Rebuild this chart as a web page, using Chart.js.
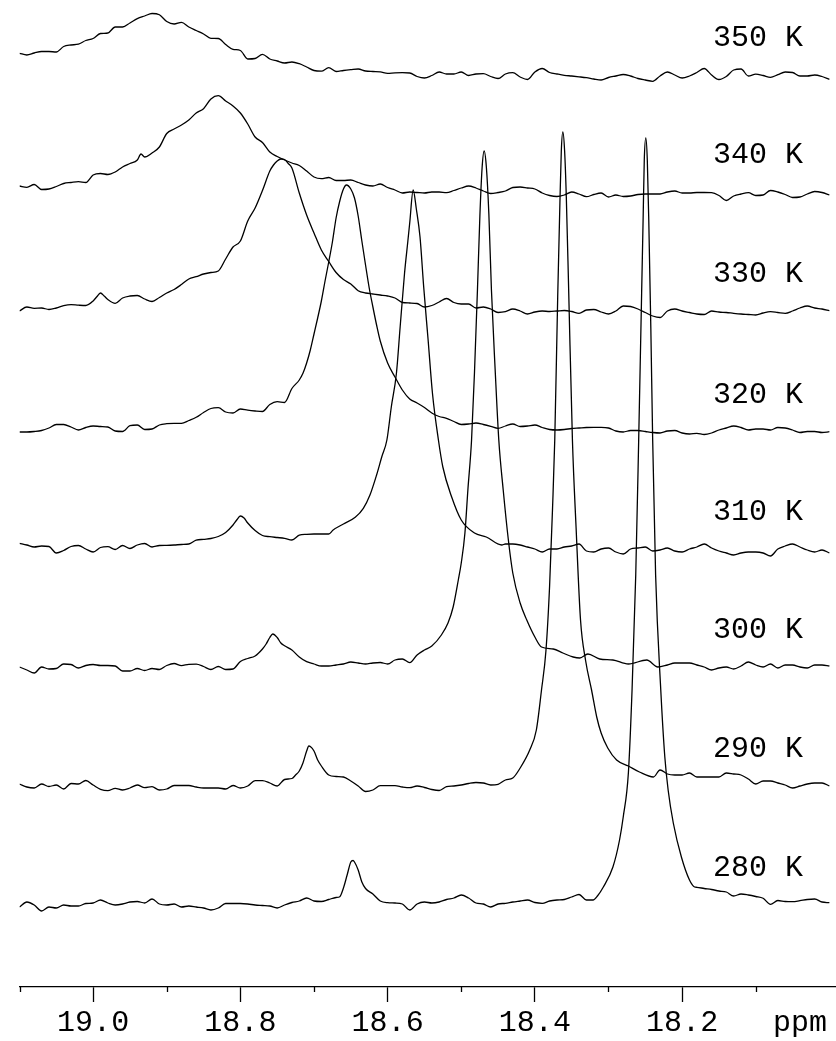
<!DOCTYPE html>
<html>
<head>
<meta charset="utf-8">
<title>Variable-temperature spectra</title>
<script src="https://cdn.jsdelivr.net/npm/chart.js@4.4.1/dist/chart.umd.min.js"></script>
<style>
    html, body { margin: 0; padding: 0; background: #fff; }
    #wrap { width: 836px; height: 1041px; }
</style>
</head>
<body>
<div id="wrap"><canvas id="spectra"></canvas></div>
<script>
// Temperatures, bottom trace first
const temps = [280, 290, 300, 310, 320, 330, 340, 350];
// Vertical offset of each trace in the stacked plot (intensity units)
const offsets = [82, 201, 320, 438, 555, 676, 795, 912];

// Each spectrum: [ppm, intensity above its own baseline]
const spec280 = [
    [19.10,-2],[19.09,3],[19.08,0],[19.07,-6],[19.06,-2],[19.05,-3],[19.04,0],[19.03,-1],[19.02,-1],[19.01,1.5],
    [19.00,2],[18.99,5],[18.98,2],[18.97,0],[18.96,1],[18.95,3],[18.94,3.5],[18.93,2],[18.92,6],[18.91,1],
    [18.90,0],[18.89,1],[18.88,-2],[18.87,-1],[18.86,-2],[18.85,-3],[18.84,-5],[18.83,-3],[18.82,1.5],[18.81,1.5],
    [18.80,1.5],[18.79,1],[18.78,0],[18.77,-0.5],[18.76,-1],[18.75,-3],[18.74,0],[18.73,2.5],[18.72,4],[18.71,7],
    [18.70,4],[18.69,3.5],[18.68,5.5],[18.67,7.5],[18.665,8.3],[18.66,17],[18.655,30],[18.65,43],[18.647,44.5],[18.645,43],
    [18.64,35],[18.635,23],[18.63,16.5],[18.62,11],[18.61,4],[18.60,2.3],[18.59,2],[18.58,1],[18.57,-5],[18.56,1],
    [18.55,3],[18.54,2],[18.53,3],[18.52,5.5],[18.51,7],[18.50,10],[18.49,7],[18.48,2],[18.47,1],[18.46,-2],
    [18.45,1],[18.44,1.7],[18.43,3],[18.42,4],[18.41,5],[18.40,2.5],[18.39,1.7],[18.38,4],[18.37,5],[18.36,5.5],
    [18.35,8],[18.34,10.5],[18.33,5],[18.321,5],[18.315,9],[18.307,18],[18.294,38],[18.285,65],[18.280,88],[18.273,132],
    [18.268,215],[18.263,330],[18.259,465],[18.256,575],[18.253,685],[18.2514,745],[18.2493,767],[18.2473,745],[18.2453,685],[18.2425,577],
    [18.240,465],[18.236,330],[18.229,215],[18.2235,148],[18.219,115],[18.212,82],[18.201,48],[18.190,25],[18.183,18],
    [18.18,17.7],[18.17,16.5],[18.16,15.5],[18.15,14],[18.14,13],[18.13,9],[18.12,11],[18.11,10],[18.10,8.5],[18.09,6.7],
    [18.08,0.7],[18.07,4.5],[18.06,3.5],[18.05,3.3],[18.04,4.3],[18.03,5.5],[18.02,6],[18.01,3],[18.00,2.3]
];

const spec290 = [
    [19.10,2],[19.09,-1],[19.08,-2],[19.07,2],[19.06,-0.5],[19.05,1],[19.04,-3],[19.03,2.5],[19.02,2],[19.01,5.5],
    [19.00,1],[18.99,-3.3],[18.98,-4.7],[18.97,-2.3],[18.96,-4],[18.95,-2],[18.94,1],[18.93,-1.7],[18.92,-0.7],[18.91,-4],
    [18.90,-3],[18.89,0.5],[18.88,0.5],[18.87,0.5],[18.86,-1],[18.85,-2],[18.84,-2],[18.83,-2],[18.82,-3],[18.81,0.5],
    [18.80,-2],[18.79,0],[18.78,5.3],[18.77,5.3],[18.76,3],[18.75,0],[18.74,6.5],[18.73,7.5],[18.725,11],[18.72,15],
    [18.715,23],[18.71,35],[18.707,40],[18.705,39.5],[18.70,35],[18.695,26],[18.69,20],[18.68,11],[18.67,9.5],[18.66,9],
    [18.65,5],[18.64,0],[18.63,-5.5],[18.62,-4],[18.61,0.3],[18.60,0.3],[18.59,0.3],[18.58,-1],[18.57,-1.7],[18.56,0],
    [18.55,-1.5],[18.54,-3.5],[18.53,-4.5],[18.52,-0.7],[18.51,0],[18.50,1],[18.49,2.5],[18.48,3.5],[18.47,3],[18.46,1],
    [18.45,1.7],[18.44,6],[18.43,8],[18.420,18],[18.407,36],[18.398,56],[18.391,96],[18.385,135],[18.380,200],[18.376,278],
    [18.373,346],[18.369,489],[18.366,583],[18.3641,635],[18.3620,654],[18.3596,635],[18.3573,589],[18.354,493],[18.349,346],[18.344,258],
    [18.338,166],[18.331,125],[18.323,96],[18.316,69],[18.310,53],[18.301,38],[18.289,26],[18.273,20],[18.258,14],[18.239,9],
    [18.23,16],[18.22,12],[18.21,11],[18.20,11],[18.19,13],[18.18,9],[18.17,9],[18.16,9],[18.15,9],[18.14,13],
    [18.13,12],[18.12,11],[18.11,7],[18.10,2],[18.09,5],[18.08,5],[18.07,3],[18.06,1],[18.05,-2],[18.04,0],
    [18.03,2],[18.02,3],[18.01,3],[18.00,0]
];

const spec300 = [
    [19.10,0],[19.09,-3],[19.08,-6],[19.07,0],[19.06,-2],[19.05,-1.5],[19.04,3],[19.03,2.5],[19.02,-1],[19.01,1.5],
    [19.00,2.5],[18.99,1.5],[18.98,1.5],[18.97,1],[18.96,-4],[18.95,-4],[18.94,-1.5],[18.93,-3.5],[18.92,-1.5],[18.91,-2.5],
    [18.90,1.5],[18.89,3.5],[18.88,1.3],[18.87,2.7],[18.86,2.8],[18.85,0.5],[18.84,-2.5],[18.83,0.5],[18.82,-2.5],[18.81,-2],
    [18.80,5.5],[18.79,8.5],[18.78,11],[18.77,18],[18.765,23],[18.76,29.5],[18.756,33],[18.75,29.5],[18.745,24],[18.74,21.2],
    [18.73,17],[18.72,10],[18.71,5.3],[18.70,3],[18.69,1],[18.68,1],[18.67,2],[18.66,3],[18.65,5],[18.64,4],
    [18.63,3],[18.62,4],[18.61,4.5],[18.60,3],[18.59,7],[18.58,8],[18.57,4.3],[18.56,12],[18.55,17],[18.54,21],
    [18.527,32],[18.518,44],[18.511,60],[18.504,87],[18.500,104],[18.495,134],[18.491,177],[18.486,227],[18.482,295],[18.478,377],
    [18.4747,451],[18.4717,499],[18.4689,516],[18.4659,500],[18.4625,453],[18.459,377],[18.454,298],[18.449,227],[18.443,177],[18.436,127],
    [18.430,94],[18.420,64],[18.411,47],[18.400,30],[18.391,20],[18.375,18],[18.362,14],[18.348,10],[18.339,9],[18.328,13],
    [18.312,8],[18.294,7],[18.273,3],[18.248,7],[18.233,0],[18.22,2],[18.21,4],[18.20,4],[18.19,4],[18.18,2],
    [18.17,0],[18.16,-3],[18.15,-1],[18.14,0],[18.13,-2],[18.12,1],[18.11,5],[18.10,2],[18.09,0],[18.08,3],
    [18.07,-1],[18.06,2],[18.05,2],[18.04,0],[18.03,-1],[18.02,2],[18.01,2],[18.00,1]
];

const spec310 = [
    [19.10,5.7],[19.09,4],[19.08,2],[19.07,3],[19.06,2.5],[19.05,-4],[19.04,-1.5],[19.03,2.5],[19.02,3.5],[19.01,0],
    [19.00,-3],[18.99,1.5],[18.98,2.3],[18.97,-0.5],[18.96,3.5],[18.95,0.5],[18.94,4],[18.93,5.5],[18.92,2],[18.91,3.5],
    [18.90,3.7],[18.89,4],[18.88,4.5],[18.87,5],[18.86,8.8],[18.85,9.7],[18.84,10.5],[18.83,12.5],[18.82,16.5],[18.81,24],
    [18.805,29],[18.80,33],[18.795,31],[18.79,26],[18.78,18.5],[18.77,13.5],[18.76,12.3],[18.75,11.5],[18.74,10.7],[18.73,9],
    [18.72,13.8],[18.71,14.7],[18.70,15],[18.69,15],[18.68,15],[18.674,19],[18.660,25],[18.644,31.7],[18.633,40.7],[18.624,54],
    [18.615,74],[18.608,92],[18.601,109],[18.595,142],[18.588,176],[18.583,222],[18.577,276],[18.5725,308],[18.570,326],[18.5653,359],
    [18.561,340],[18.556,312],[18.551,262],[18.545,209],[18.539,155],[18.531,109],[18.525,82],[18.513,52],[18.500,29],[18.482,16],
    [18.466,12],[18.445,4],[18.44,5],[18.43,5],[18.42,4],[18.41,2],[18.40,0],[18.39,-3],[18.38,0],[18.37,0],
    [18.36,2],[18.35,3],[18.34,5],[18.33,-2],[18.32,-3],[18.31,0],[18.30,1],[18.29,-3],[18.28,-5],[18.27,0],
    [18.26,1],[18.25,2],[18.24,-2],[18.23,-1],[18.22,1],[18.21,-2],[18.20,-3],[18.19,0],[18.18,2],[18.17,5],
    [18.16,1],[18.15,-2],[18.14,-4],[18.13,-6],[18.12,-4],[18.11,-3],[18.10,-3],[18.09,-4],[18.08,-7],[18.07,0],
    [18.06,3],[18.05,5],[18.04,2],[18.03,-1],[18.02,-3],[18.01,-1],[18.00,-4]
];

const spec320 = [
    [19.10,0],[19.09,0],[19.08,0.5],[19.07,1.5],[19.06,4],[19.05,7.5],[19.04,7.5],[19.03,5],[19.02,2],[19.01,4.5],
    [19.00,6],[18.99,5.5],[18.98,5],[18.97,1],[18.96,0.5],[18.95,6.3],[18.94,7],[18.93,2.5],[18.92,3],[18.91,7],
    [18.90,8.3],[18.89,8.7],[18.88,8.7],[18.87,11.5],[18.86,14.7],[18.85,19.5],[18.84,23.5],[18.83,24.3],[18.82,20],[18.81,19],
    [18.80,23],[18.79,21.8],[18.78,21],[18.77,20.5],[18.76,27.5],[18.75,30.3],[18.74,29.5],[18.73,43.5],[18.72,52],[18.715,58.7],
    [18.71,69],[18.705,82],[18.70,98],[18.695,114],[18.69,131],[18.685,151],[18.68,170],[18.675,190],[18.67,214],[18.665,231],
    [18.66,243],[18.656,247],[18.65,243],[18.645,234],[18.64,216],[18.635,191],[18.63,167],[18.625,144],[18.62,125],[18.615,107],
    [18.61,91],[18.60,69],[18.59,55],[18.58,42],[18.57,33],[18.56,29],[18.55,24.5],[18.54,19],[18.53,15.5],[18.52,13.7],
    [18.51,10.5],[18.50,7.5],[18.49,8],[18.48,9],[18.47,7.5],[18.46,5.7],[18.45,3.7],[18.44,6],[18.43,8],[18.42,5.5],
    [18.41,6],[18.40,7],[18.39,4.5],[18.38,2.5],[18.37,2],[18.36,2.5],[18.35,3.5],[18.34,4],[18.33,4.5],[18.32,4.7],
    [18.31,4.7],[18.30,4],[18.29,1],[18.28,0],[18.27,1.5],[18.26,1.5],[18.25,0.5],[18.24,-0.5],[18.23,-1],[18.22,1],
    [18.21,1.5],[18.20,-1],[18.19,-2],[18.18,-1.3],[18.17,-2.5],[18.16,-1],[18.15,2],[18.14,4],[18.13,6],[18.12,4.5],
    [18.11,2],[18.10,3],[18.09,3],[18.08,2],[18.07,4.5],[18.06,4],[18.05,2],[18.04,-0.5],[18.03,0.5],[18.02,0.5],
    [18.01,-0.5],[18.00,0.3]
];

const spec330 = [
    [19.10,0],[19.09,4],[19.08,2.7],[19.07,3],[19.06,1.5],[19.05,3],[19.04,5.3],[19.03,6.3],[19.02,5.8],[19.01,5.5],
    [19.00,10],[18.995,14.3],[18.99,18],[18.985,15],[18.98,11.5],[18.97,7.7],[18.96,13],[18.95,15],[18.94,15.5],[18.93,12],
    [18.92,9.5],[18.91,13.5],[18.90,18],[18.89,21.5],[18.88,26.5],[18.87,32],[18.86,34.3],[18.85,37],[18.84,38.5],[18.83,40],
    [18.82,52],[18.81,64],[18.80,70],[18.79,90],[18.78,103],[18.77,120.5],[18.76,140],[18.755,146],[18.75,150],[18.745,152],
    [18.74,151.5],[18.735,147.5],[18.73,143],[18.72,118],[18.71,96],[18.70,78],[18.69,61],[18.68,49.5],[18.67,38.5],[18.66,31.5],
    [18.65,27],[18.64,20.3],[18.63,18],[18.62,17],[18.61,16],[18.60,15],[18.59,13],[18.58,8.5],[18.57,8],[18.56,7.5],
    [18.55,4],[18.54,5.5],[18.53,9],[18.52,12.5],[18.51,8.5],[18.50,7],[18.49,7],[18.48,3],[18.47,4],[18.46,2],
    [18.45,-1.5],[18.44,-0.7],[18.43,2],[18.42,0],[18.41,-3],[18.40,-1],[18.39,0],[18.38,-0.5],[18.37,0],[18.36,0.5],
    [18.35,-0.5],[18.34,-2.3],[18.33,1],[18.32,1.5],[18.31,-1],[18.30,-3],[18.29,0],[18.28,5],[18.27,4.5],[18.26,2],
    [18.25,-1.5],[18.24,-5],[18.23,-6.5],[18.22,0],[18.21,2],[18.20,0],[18.19,-1.5],[18.18,-3],[18.17,-3.5],[18.16,0],
    [18.15,-1],[18.14,-1.5],[18.13,-2.3],[18.12,-3],[18.11,-3.5],[18.10,-4],[18.09,-2],[18.08,-0.7],[18.07,-1.5],[18.06,-2.3],
    [18.05,0],[18.04,3],[18.03,5],[18.02,3],[18.01,2],[18.00,0.3]
];

const spec340 = [
    [19.10,6],[19.09,4.7],[19.08,7.5],[19.07,2.5],[19.06,3],[19.05,5.5],[19.04,8.5],[19.03,9.5],[19.02,10.3],[19.01,9.5],
    [19.00,17],[18.99,18.5],[18.98,17.5],[18.97,20],[18.96,25],[18.95,28.5],[18.94,32],[18.935,38],[18.93,35],[18.92,39],
    [18.91,45],[18.90,58.5],[18.89,63],[18.88,67],[18.87,72],[18.86,79],[18.85,83.3],[18.84,93],[18.83,96.3],[18.82,91],
    [18.81,86],[18.80,79],[18.79,68],[18.78,55],[18.77,49.5],[18.76,40],[18.75,35.5],[18.74,32],[18.73,29],[18.72,26.5],
    [18.71,21],[18.70,15],[18.69,13.3],[18.68,14.5],[18.67,11.5],[18.66,11.5],[18.65,12],[18.64,9.5],[18.63,7],[18.62,6],
    [18.61,8],[18.60,4.5],[18.59,2],[18.58,-1],[18.57,0],[18.56,-0.5],[18.55,-1],[18.54,0],[18.53,0],[18.52,-0.7],
    [18.51,1.5],[18.50,4],[18.49,6],[18.48,4],[18.47,1],[18.46,-1.5],[18.45,-0.5],[18.44,1],[18.43,4.5],[18.42,5],
    [18.41,4],[18.40,3],[18.39,-1],[18.38,-3.5],[18.37,-4.5],[18.36,-3],[18.35,0],[18.34,-2],[18.33,-4.7],[18.32,-2.5],
    [18.31,-1],[18.30,-5],[18.29,-3],[18.28,-4.5],[18.27,-4],[18.26,-2.5],[18.25,-2],[18.24,-2],[18.23,-2],[18.22,0],
    [18.21,1],[18.20,-1],[18.19,-1],[18.18,-0.5],[18.17,-0.5],[18.16,-0.7],[18.15,-3.5],[18.14,-8.5],[18.13,-4],[18.12,-2],
    [18.11,-0.7],[18.10,-3.5],[18.09,-3],[18.08,1.5],[18.07,0],[18.06,-2.5],[18.05,-5.5],[18.04,-5],[18.03,-2],[18.02,0.5],
    [18.01,-0.5],[18.00,-3]
];

const spec350 = [
    [19.10,21.7],[19.09,20],[19.08,22],[19.07,23.5],[19.06,23.5],[19.05,23],[19.04,28.5],[19.03,30],[19.02,30.8],[19.01,34.5],
    [19.00,36.5],[18.99,41.5],[18.98,42],[18.97,48],[18.96,48],[18.95,52],[18.94,56.3],[18.93,59],[18.92,61.5],[18.91,60.2],
    [18.90,53.5],[18.89,51],[18.88,52.7],[18.87,48],[18.86,44.5],[18.85,41],[18.84,36.7],[18.83,36.5],[18.82,30.5],[18.81,25.7],
    [18.80,24.5],[18.79,16],[18.78,16.5],[18.77,20.7],[18.76,16],[18.75,14],[18.74,12],[18.73,13],[18.72,11.3],[18.71,8],
    [18.70,4.5],[18.69,3.8],[18.68,7.3],[18.67,3.5],[18.66,4.5],[18.65,5.3],[18.64,6],[18.63,4],[18.62,3.5],[18.61,3.2],
    [18.60,1.7],[18.59,2.2],[18.58,2.3],[18.57,2],[18.56,-1.5],[18.55,-3],[18.54,-0.5],[18.53,3],[18.52,1],[18.51,1],
    [18.50,3],[18.49,-0.5],[18.48,1],[18.47,1.3],[18.46,-1.5],[18.45,-3.5],[18.44,1],[18.43,2.3],[18.42,-2],[18.41,-4.5],
    [18.40,3],[18.39,6.5],[18.38,2.5],[18.37,1],[18.36,-0.3],[18.35,-1],[18.34,-1.8],[18.33,-2.7],[18.32,-4],[18.31,-5],
    [18.30,-2.5],[18.29,-1],[18.28,0.5],[18.27,-1],[18.26,-3.5],[18.25,-5],[18.24,-6.3],[18.23,-1],[18.22,3],[18.21,0],
    [18.20,-3],[18.19,-1],[18.18,2.5],[18.17,6.5],[18.16,0],[18.15,-4.5],[18.14,-1.5],[18.13,5],[18.12,6],[18.11,-1],
    [18.10,0.8],[18.09,-0.5],[18.08,-2.3],[18.07,0.3],[18.06,3],[18.05,2.5],[18.04,-1],[18.03,-1],[18.02,0],[18.01,-1.5],
    [18.00,-4.3]
];

const spectra = [spec280, spec290, spec300, spec310, spec320, spec330, spec340, spec350];

// Axis ticks (ascending); empty label = minor tick
const tickValues = [18.04, 18.1, 18.2, 18.3, 18.4, 18.5, 18.6, 18.7, 18.8, 18.9, 19.0, 19.1];
const tickLabels = ['ppm', '', '18.2', '', '18.4', '', '18.6', '', '18.8', '', '19.0', ''];
const tempLabelPpm = 18.097;

const FONT = "'Liberation Mono', 'DejaVu Sans Mono', monospace";
const LABEL_LIFT = 37;

const datasets = spectra.map((spec, i) => ({
    label: temps[i] + ' K',
    data: spec.map(p => ({ x: p[0], y: offsets[i] + p[1] })),
    borderColor: '#000',
    borderWidth: 1.3,
    pointRadius: 0,
    cubicInterpolationMode: 'monotone',
    fill: false
}));

const isMajor = i => /\d/.test(tickLabels[i]);

// temperature captions and the short minor ticks
const extrasPlugin = {
    id: 'extras',
    afterDraw(chart) {
        const ctx = chart.ctx;
        const xs = chart.scales.x;
        const ys = chart.scales.y;
        ctx.save();
        ctx.strokeStyle = '#000';
        ctx.lineWidth = 1.3;
        tickValues.forEach((v, i) => {
            if (tickLabels[i] !== '') return;
            const px = Math.round(xs.getPixelForValue(v)) + 0.5;
            ctx.beginPath();
            ctx.moveTo(px, xs.top);
            ctx.lineTo(px, xs.top + 5);
            ctx.stroke();
        });
        ctx.fillStyle = '#000';
        ctx.font = '30px ' + FONT;
        ctx.textAlign = 'center';
        ctx.textBaseline = 'middle';
        temps.forEach((t, i) => {
            ctx.fillText(t + ' K', xs.getPixelForValue(tempLabelPpm), ys.getPixelForValue(offsets[i] + LABEL_LIFT));
        });
        ctx.restore();
    }
};

new Chart(document.getElementById('spectra').getContext('2d'), {
    type: 'line',
    data: { datasets },
    options: {
        responsive: true,
        maintainAspectRatio: false,
        animation: false,
        layout: { padding: { left: 19.5, right: 0, top: 0, bottom: 0 } },
        plugins: {
            legend: { display: false },
            title: { display: false },
            tooltip: { enabled: false }
        },
        scales: {
            x: {
                type: 'linear',
                reverse: true,
                min: 17.991,
                max: 19.1,
                afterBuildTicks: scale => { scale.ticks = tickValues.map(v => ({ value: v })); },
                afterFit: scale => { scale.height = 54; },
                border: { display: true, color: '#000', width: 1.3 },
                grid: {
                    display: true,
                    drawOnChartArea: false,
                    drawTicks: true,
                    tickLength: 15,
                    tickWidth: 1.3,
                    tickColor: c => (isMajor(c.index) ? '#000' : 'rgba(0,0,0,0)')
                },
                ticks: {
                    autoSkip: false,
                    maxRotation: 0,
                    padding: 3,
                    color: '#000',
                    font: { family: FONT, size: 30, lineHeight: 1.2 },
                    callback: (value, index) => tickLabels[index]
                }
            },
            y: {
                display: false,
                min: 0,
                max: 987
            }
        }
    },
    plugins: [extrasPlugin]
});
</script>
</body>
</html>
